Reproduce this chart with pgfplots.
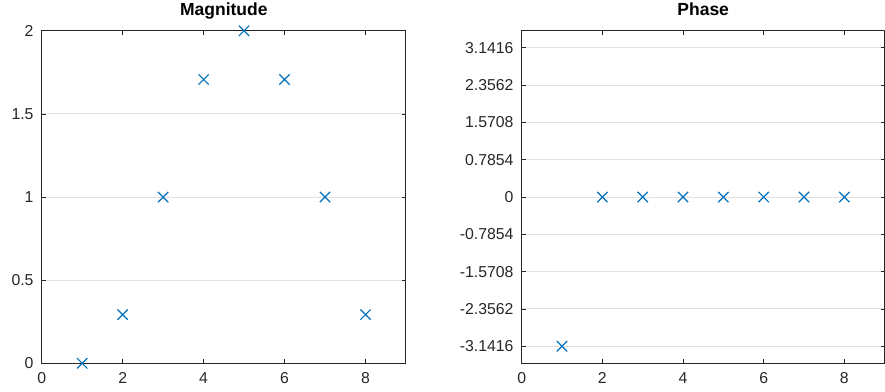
\documentclass[border=0pt]{standalone}
\usepackage{fontspec}
\setmainfont{Liberation Sans}
\usepackage{pgfplots}
\pgfplotsset{compat=1.18}
\definecolor{mblue}{RGB}{0,114,189}
\definecolor{gridgray}{RGB}{225,225,225}
\definecolor{axgray}{RGB}{38,38,38}
\pgfplotsset{
  mystyle/.style={
    scale only axis, height=332.5pt,
    anchor=south west,
    xmin=0, xmax=9, xtick={0,2,4,6,8},
    tick align=inside, tick pos=both,
    major tick length=4pt,
    axis line style={axgray, line width=1pt},
    tick style={axgray, line width=0.8pt},
    ymajorgrids, grid style={gridgray, line width=1pt},
    every tick label/.style={font=\fontsize{15.8}{18}\selectfont, text=axgray},
    yticklabel style={inner sep=0pt, xshift=-8pt},
    xticklabel style={inner sep=0pt, yshift=-9pt},
    /pgf/number format/assume math mode=true,
    title style={font=\bfseries\fontsize{17.5}{20}\selectfont, at={(0.5,1)}, anchor=base, yshift=9pt, inner sep=0pt},
    clip=false,
  }
}
\begin{document}
\begin{tikzpicture}
\useasboundingbox (0pt,0pt) rectangle (885pt,391pt);
\begin{axis}[mystyle, at={(41.7pt,27.7pt)}, width=364.3pt, title={Magnitude},
  ymin=0, ymax=2, ytick={0,0.5,1,1.5,2},
  yticklabels={0,0.5,1,1.5,2}, xticklabels={0,2,4,6,8}]
\addplot[only marks, mark=x, mark size=7.3pt, mblue, line width=1.2pt] coordinates {
 (1,0) (2,0.2929) (3,1) (4,1.7071) (5,2) (6,1.7071) (7,1) (8,0.2929)};
\end{axis}
\begin{axis}[mystyle, at={(521.7pt,27.7pt)}, width=363pt, title={Phase},
  ymin=-3.5, ymax=3.5,
  ytick={-3.1416,-2.3562,-1.5708,-0.7854,0,0.7854,1.5708,2.3562,3.1416},
  yticklabels={-3.1416,-2.3562,-1.5708,-0.7854,0,0.7854,1.5708,2.3562,3.1416},
  xticklabels={0,2,4,6,8}]
\addplot[only marks, mark=x, mark size=7.3pt, mblue, line width=1.2pt] coordinates {
 (1,-3.1416) (2,0) (3,0) (4,0) (5,0) (6,0) (7,0) (8,0)};
\end{axis}
\end{tikzpicture}
\end{document}
